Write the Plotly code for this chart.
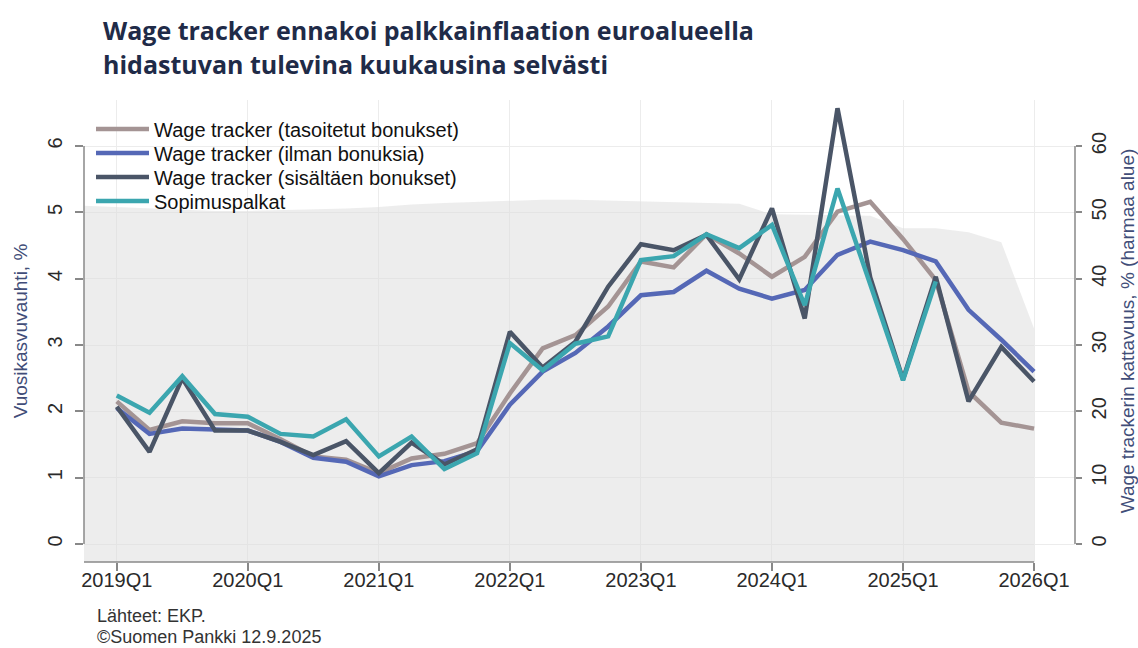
import plotly.graph_objects as go

# ---------------- data ----------------
quarters = [f"{y}Q{q}" for y in range(2019, 2026) for q in range(1, 5)] + ["2026Q1"]
idx = list(range(len(quarters)))  # 0 = 2019Q1 ... 28 = 2026Q1

tasoitetut = [2.15, 1.72, 1.85, 1.82, 1.82, 1.58, 1.32, 1.27, 1.07, 1.29, 1.36, 1.52,
              2.27, 2.95, 3.15, 3.58, 4.26, 4.17, 4.67, 4.38, 4.03, 4.33, 5.01, 5.16,
              4.60, 3.98, 2.30, 1.83, 1.74]
ilman = [2.05, 1.66, 1.74, 1.72, 1.71, 1.54, 1.30, 1.24, 1.02, 1.19, 1.25, 1.40,
         2.10, 2.60, 2.88, 3.28, 3.75, 3.80, 4.12, 3.85, 3.70, 3.83, 4.36, 4.56,
         4.43, 4.26, 3.53, 3.08, 2.60]
sisaltaen = [2.07, 1.39, 2.50, 1.71, 1.71, 1.54, 1.34, 1.55, 1.07, 1.53, 1.20, 1.43,
             3.20, 2.66, 3.05, 3.88, 4.52, 4.43, 4.66, 3.99, 5.06, 3.40, 6.57, 4.02,
             2.48, 4.03, 2.15, 2.97, 2.45]
sopimus = [2.24, 1.98, 2.53, 1.96, 1.92, 1.66, 1.62, 1.88, 1.32, 1.62, 1.13, 1.37,
           3.03, 2.62, 3.02, 3.13, 4.28, 4.34, 4.67, 4.46, 4.81, 3.60, 5.36, 3.92,
           2.47, 3.96]

# coverage (grey area), starting one quarter before 2019Q1
coverage_x = [-1] + idx
coverage = [51.0, 50.8, 50.5, 50.3, 50.2, 50.2, 50.3, 50.5, 50.6, 50.8, 51.2, 51.4, 51.6,
            51.8, 51.9, 51.9, 51.8, 51.7, 51.6, 51.5, 51.3, 49.7, 49.6, 49.6, 49.5,
            47.6, 47.6, 47.0, 45.5, 32.5]

tick_idx = list(range(0, 29, 4))
tick_text = [quarters[i] for i in tick_idx]

title_lines = ["Wage tracker ennakoi palkkainflaation euroalueella",
               "hidastuvan tulevina kuukausina selvästi"]
footer_lines = ["Lähteet: EKP.", "©Suomen Pankki 12.9.2025"]

X_RANGE = [-1, 29.25]
Y_LEFT_RANGE = [-0.271, 6.694]
Y_RIGHT_RANGE = [v * 10 for v in Y_LEFT_RANGE]

series = [
    ("Wage tracker (tasoitetut bonukset)", tasoitetut, "#a49494"),
    ("Wage tracker (ilman bonuksia)", ilman, "#5568b6"),
    ("Wage tracker (sisältäen bonukset)", sisaltaen, "#4a5567"),
    ("Sopimuspalkat", sopimus, "#3ba6af"),
]

# layout geometry (pixels)
W, H = 1138, 648
ML, MR, MT, MB = 84, 63, 100, 86
PLOT_H = H - MT - MB


def py(pix):
    """pixel row -> paper y"""
    return (H - MB - pix) / PLOT_H


def px(pix):
    """pixel column -> paper x"""
    return (pix - ML) / (W - ML - MR)


fig = go.Figure()

# grey coverage area on the (right) primary axis, filled down to the axis bottom
fig.add_trace(go.Scatter(x=coverage_x, y=[Y_RIGHT_RANGE[0]] * len(coverage_x), mode="lines",
                         line=dict(width=0), showlegend=False, hoverinfo="skip", yaxis="y"))
fig.add_trace(go.Scatter(x=coverage_x, y=coverage, mode="lines", line=dict(width=0),
                         fill="tonexty", fillcolor="rgba(222,222,222,0.55)",
                         showlegend=False, hoverinfo="skip", yaxis="y"))

legend_font = dict(family="Liberation Sans, Arial", size=20, color="#111")
legend_names = ["legend", "legend2", "legend3", "legend4"]
legend_rows = [129, 153, 177, 201]
legend_layout = {}
for (name, vals, col), lg, row in zip(series, legend_names, legend_rows):
    fig.add_trace(go.Scatter(x=idx[:len(vals)], y=vals, mode="lines", name=name,
                             line=dict(color=col, width=4.5), yaxis="y2", legend=lg))
    legend_layout[lg] = dict(x=px(91), y=py(row), xanchor="left", yanchor="middle",
                             bgcolor="rgba(0,0,0,0)", font=legend_font, itemwidth=53,
                             traceorder="normal")

tick_font = dict(family="Liberation Sans, Arial", size=20, color="#2a2a2a")
title_col = "#414d78"

fig.update_layout(
    width=W, height=H, autosize=False,
    margin=dict(l=ML, r=MR, t=MT, b=MB, autoexpand=False),
    paper_bgcolor="white", plot_bgcolor="white",
    xaxis=dict(range=X_RANGE, tickvals=tick_idx, ticktext=tick_text, showline=False,
               ticks="outside", ticklen=8, tickcolor="#888", tickwidth=1.5,
               showgrid=True, gridcolor="#ececec", gridwidth=1, zeroline=False,
               tickfont=tick_font, ticklabelstandoff=-8, automargin=False),
    yaxis=dict(side="right", range=Y_RIGHT_RANGE, tickvals=list(range(0, 61, 10)),
               tickangle=-90, ticks="outside", ticklen=6, tickcolor="#888", tickwidth=1.5,
               showgrid=True, gridcolor="#ececec", zeroline=False, showline=False,
               tickfont=tick_font, automargin=False,
               title=dict(text="Wage trackerin kattavuus, % (harmaa alue)",
                          font=dict(family="Liberation Sans, Arial", size=19, color=title_col),
                          standoff=20)),
    yaxis2=dict(side="left", overlaying="y", range=Y_LEFT_RANGE, tickvals=list(range(0, 7)),
                tickangle=-90, ticks="outside", ticklen=8, tickcolor="#888", tickwidth=1.5,
                showgrid=False, zeroline=False, showline=False, tickfont=tick_font,
                ticklabelstandoff=5, automargin=False,
                title=dict(text="Vuosikasvuvauhti, %",
                           font=dict(family="Liberation Sans, Arial", size=19, color=title_col),
                           standoff=11)),
    showlegend=True,
    **legend_layout,
)

# axis lines spanning only the labelled range (Stata style)
fig.add_shape(type="line", xref="paper", yref="y2", x0=0, x1=0, y0=0, y1=6,
              line=dict(color="#888", width=1.5))
fig.add_shape(type="line", xref="paper", yref="y", x0=1, x1=1, y0=0, y1=60,
              line=dict(color="#888", width=1.5))
fig.add_shape(type="line", xref="x", yref="paper", x0=X_RANGE[0], x1=idx[-1], y0=0, y1=0,
              line=dict(color="#888", width=1.5))

# title (two lines)
title_font = dict(family="Open Sans, Roboto", size=25, color="#1f2b48", weight="bold")
for line, row in zip(title_lines, [30, 64]):
    fig.add_annotation(text=line, xref="paper", yref="paper", x=px(101), y=py(row),
                       xanchor="left", yanchor="middle", showarrow=False, font=title_font)

foot_font = dict(family="Liberation Sans, Arial", size=18, color="#333")
for line, row in zip(footer_lines, [616, 637]):
    fig.add_annotation(text=line, xref="paper", yref="paper", x=px(95), y=py(row),
                       xanchor="left", yanchor="middle", showarrow=False, font=foot_font)

fig.write_html("out.html", config={"displayModeBar": False},
               post_script="document.body.style.margin='0px';")
